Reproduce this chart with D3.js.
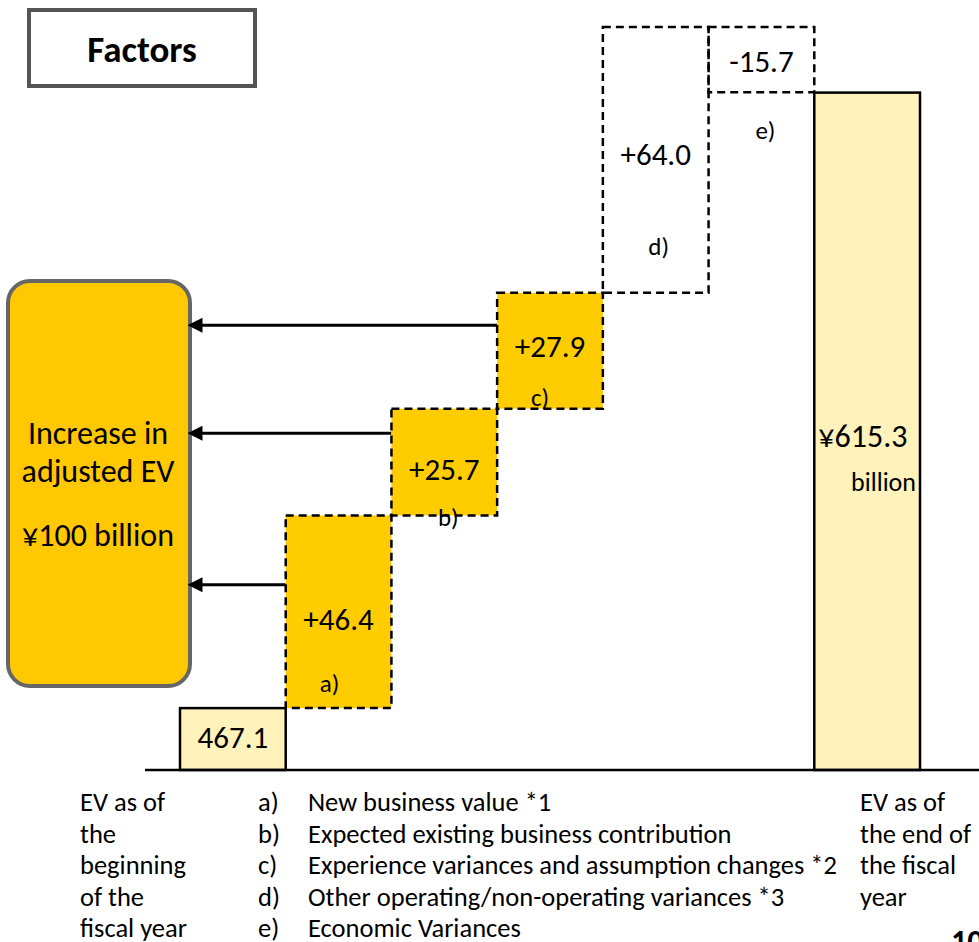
<!DOCTYPE html>
<html>
<head>
<meta charset="utf-8">
<script src="https://cdn.jsdelivr.net/npm/d3@7"></script>
<style>
  html, body { margin: 0; padding: 0; background: #fff; }
  svg { display: block; font-family: Carlito, Calibri, "Open Sans", sans-serif; }
</style>
</head>
<body>
<svg id="chart" width="979" height="942"></svg>
<script>
// EV movement over the fiscal year (¥ billion)
const steps = ["start", "a", "b", "c", "d", "e", "end"];
const startValue = 467.1;
const factorKeys = ["a", "b", "c", "d", "e"];
const factorValues = [46.4, 25.7, 27.9, 64.0, -15.7];
const endValue = 615.3;
const factorLabels = ["+46.4", "+25.7", "+27.9", "+64.0", "-15.7"];
const legendKeys = ["a)", "b)", "c)", "d)", "e)"];
const legendTexts = [
  "New business value  *1",
  "Expected existing business contribution",
  "Experience variances and assumption changes *2",
  "Other operating/non-operating variances *3",
  "Economic Variances"
];
const startCaption = ["EV as of", "the", "beginning", "of the", "fiscal year"];
const endCaption = ["EV as of", "the end of", "the fiscal", "year"];
const summaryLines = ["Increase in", "adjusted EV", "¥100 billion"];
const filledFactors = ["a", "b", "c"];

const svg = d3.select("#chart");
const GOLD = "#FFCC00";
const LIGHT = "#FFF2BA";

// Scales (value axis is truncated: the baseline sits well above zero)
const x = d3.scaleBand().domain(steps).range([180, 920]).padding(0);
const y = d3.scaleLinear().domain([452.2, 637.6]).range([770, 0]);
const base = y.domain()[0];

// Build waterfall segments
let running = startValue;
const segs = factorKeys.map((k, i) => {
  const v = factorValues[i];
  const from = running;
  running += v;
  return { key: k, v, lo: Math.min(from, running), hi: Math.max(from, running), label: factorLabels[i], tag: legendKeys[i] };
});

// Title box
svg.append("rect").attr("x", 29).attr("y", 10).attr("width", 226).attr("height", 76)
  .attr("fill", "#fff").attr("stroke", "#555").attr("stroke-width", 4);
svg.append("text").attr("x", 142).attr("y", 62).attr("text-anchor", "middle")
  .attr("font-size", 37).attr("font-weight", "bold").text("Factors");

// Summary box on the left
svg.append("rect").attr("x", 8).attr("y", 281).attr("width", 182).attr("height", 405)
  .attr("rx", 22).attr("fill", "#FFC800").attr("stroke", "#666").attr("stroke-width", 4);
const sumY = [444, 482, 546];
summaryLines.forEach((t, i) => {
  svg.append("text").attr("x", 98).attr("y", sumY[i]).attr("text-anchor", "middle")
    .attr("font-size", 32).text(t);
});

// Arrow marker
svg.append("defs").append("marker").attr("id", "arrow")
  .attr("viewBox", "0 0 10 10").attr("refX", 1).attr("refY", 5)
  .attr("markerWidth", 5).attr("markerHeight", 5).attr("orient", "auto-start-reverse")
  .append("path").attr("d", "M0,0 L10,5 L0,10 Z").attr("fill", "#000");

// Start bar
svg.append("rect").attr("x", x("start")).attr("y", y(startValue))
  .attr("width", x.bandwidth()).attr("height", y(base) - y(startValue))
  .attr("fill", LIGHT).attr("stroke", "#000").attr("stroke-width", 2.5);
svg.append("text").attr("x", x("start") + x.bandwidth() / 2).attr("y", (y(startValue) + y(base)) / 2 + 9)
  .attr("text-anchor", "middle").attr("font-size", 31).text(startValue.toFixed(1));

// End bar
svg.append("rect").attr("x", x("end")).attr("y", y(endValue))
  .attr("width", x.bandwidth()).attr("height", y(base) - y(endValue))
  .attr("fill", LIGHT).attr("stroke", "#000").attr("stroke-width", 2.5);
svg.append("text").attr("x", x("end") + 4).attr("y", 447)
  .attr("font-size", 32).text("¥" + endValue.toFixed(1));
svg.append("text").attr("x", x("end") + x.bandwidth() - 4).attr("y", 491)
  .attr("text-anchor", "end").attr("font-size", 26).text("billion");

// Arrows from the filled factor boxes to the summary box
const arrowFrac = { a: 0.36, b: 0.23, c: 0.28 };
segs.filter(s => filledFactors.includes(s.key)).forEach(s => {
  const yy = y(s.hi) + arrowFrac[s.key] * (y(s.lo) - y(s.hi));
  svg.append("line").attr("x1", x(s.key)).attr("x2", 201).attr("y1", yy).attr("y2", yy)
    .attr("stroke", "#000").attr("stroke-width", 3).attr("marker-end", "url(#arrow)");
});

// Factor boxes
const g = svg.append("g");
segs.forEach(s => {
  const top = y(s.hi), bot = y(s.lo);
  const filled = filledFactors.includes(s.key);
  g.append("rect").attr("x", x(s.key)).attr("y", top).attr("width", x.bandwidth()).attr("height", bot - top)
    .attr("fill", filled ? GOLD : "#fff").attr("fill-opacity", filled ? 1 : 0)
    .attr("stroke", "#000").attr("stroke-width", 2.5).attr("stroke-dasharray", "8,5");
});
const cx = k => x(k) + x.bandwidth() / 2;
// value labels and tags
const valY = { a: 630, b: 480, c: 357, d: 165, e: 72 };
const tagY = { a: 692, b: 526, c: 406, d: 255, e: 139 };
const tagDx = { a: -9, b: 4, c: -10, d: 3, e: 4 };
segs.forEach(s => {
  svg.append("text").attr("x", cx(s.key)).attr("y", valY[s.key]).attr("text-anchor", "middle")
    .attr("font-size", 31).text(s.label);
  svg.append("text").attr("x", cx(s.key) + tagDx[s.key]).attr("y", tagY[s.key])
    .attr("text-anchor", "middle").attr("font-size", 25).text(s.tag);
});

// Baseline
svg.append("line").attr("x1", 145).attr("x2", 979).attr("y1", y(base)).attr("y2", y(base))
  .attr("stroke", "#000").attr("stroke-width", 2.5);

// Captions and legend
const rowY = i => 811 + i * 31.5;
const fs = 26.5;
startCaption.forEach((t, i) => svg.append("text").attr("x", 80).attr("y", rowY(i)).attr("font-size", fs).text(t));
legendKeys.forEach((t, i) => svg.append("text").attr("x", 258).attr("y", rowY(i)).attr("font-size", fs).text(t));
legendTexts.forEach((t, i) => svg.append("text").attr("x", 308).attr("y", rowY(i)).attr("font-size", fs).text(t));
endCaption.forEach((t, i) => svg.append("text").attr("x", 860).attr("y", rowY(i)).attr("font-size", fs).text(t));

// Page number
svg.append("text").attr("x", 951).attr("y", 952).attr("font-size", 32).attr("font-weight", "bold").text("10");
</script>
</body>
</html>
